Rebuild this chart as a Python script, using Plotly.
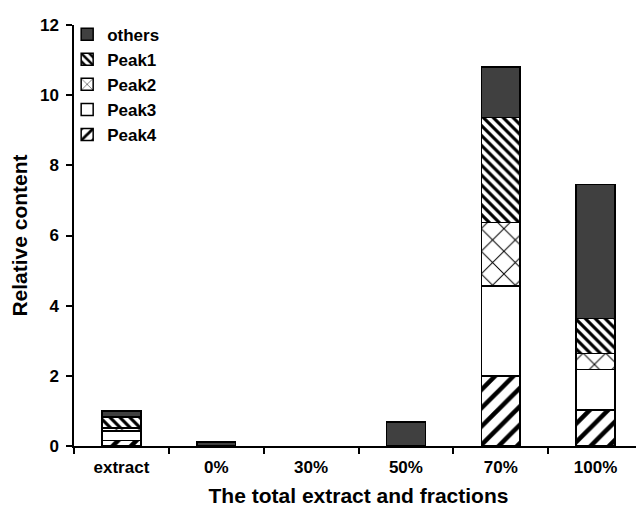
import plotly.graph_objects as go

categories = ["extract", "0%", "30%", "50%", "70%", "100%"]
peak4 = [0.15, 0, 0, 0, 2.00, 1.03]
peak3 = [0.28, 0, 0, 0, 2.56, 1.15]
peak2 = [0.08, 0, 0, 0, 1.81, 0.45]
peak1 = [0.32, 0, 0, 0, 3.00, 1.00]
others = [0.17, 0.12, 0, 0.69, 1.43, 3.82]

FONT = "Arial, Liberation Sans, sans-serif"

series = [
    ("Peak4", peak4, dict(fgcolor="black", bgcolor="white", shape="/", size=13, solidity=0.35, fgopacity=1)),
    ("Peak3", peak3, None),
    ("Peak2", peak2, dict(fgcolor="black", bgcolor="white", shape="x", size=16, solidity=0.12, fgopacity=1)),
    ("Peak1", peak1, dict(fgcolor="black", bgcolor="white", shape="\\", size=7, solidity=0.45, fgopacity=1)),
    ("others", others, None),
]

fig = go.Figure()
for name, vals, pat in series:
    marker = dict(line=dict(color="black", width=1.5))
    marker["color"] = "#404040" if name == "others" else "white"
    if pat:
        marker["pattern"] = pat
    yv = [v if v > 0 else None for v in vals]
    fig.add_trace(go.Bar(x=categories, y=yv, name=name, marker=marker))

fig.update_layout(
    barmode="stack",
    bargap=0.59,
    width=644,
    height=512,
    margin=dict(l=66, r=9, t=14, b=74),
    plot_bgcolor="white",
    paper_bgcolor="white",
    font=dict(family=FONT, size=17, color="black"),
    showlegend=True,
    legend=dict(
        x=-0.012, y=1.02, xanchor="left", yanchor="top",
        traceorder="reversed",
        font=dict(family=FONT, size=17, color="black", weight="bold"),
        bgcolor="rgba(0,0,0,0)",
        tracegroupgap=0,
    ),
)
fig.update_xaxes(
    type="category",
    showline=True, linecolor="black", linewidth=1.5,
    ticks="outside", ticklen=6, tickcolor="black", tickwidth=1.5,
    tickson="boundaries",
    ticklabelstandoff=5,
    tickfont=dict(family=FONT, size=17, weight="bold"),
    title=dict(text="The total extract and fractions",
               font=dict(family=FONT, size=21, weight="bold"), standoff=12),
    showgrid=False,
)
fig.update_yaxes(
    range=[0, 12], dtick=2,
    showline=True, linecolor="black", linewidth=1.5,
    ticks="outside", ticklen=6, tickcolor="black", tickwidth=1.5,
    ticklabelstandoff=4,
    tickfont=dict(family=FONT, size=17, weight="bold"),
    title=dict(text="Relative content",
               font=dict(family=FONT, size=21, weight="bold"), standoff=8),
    showgrid=False, zeroline=False,
)

fig.write_html("out.html")
